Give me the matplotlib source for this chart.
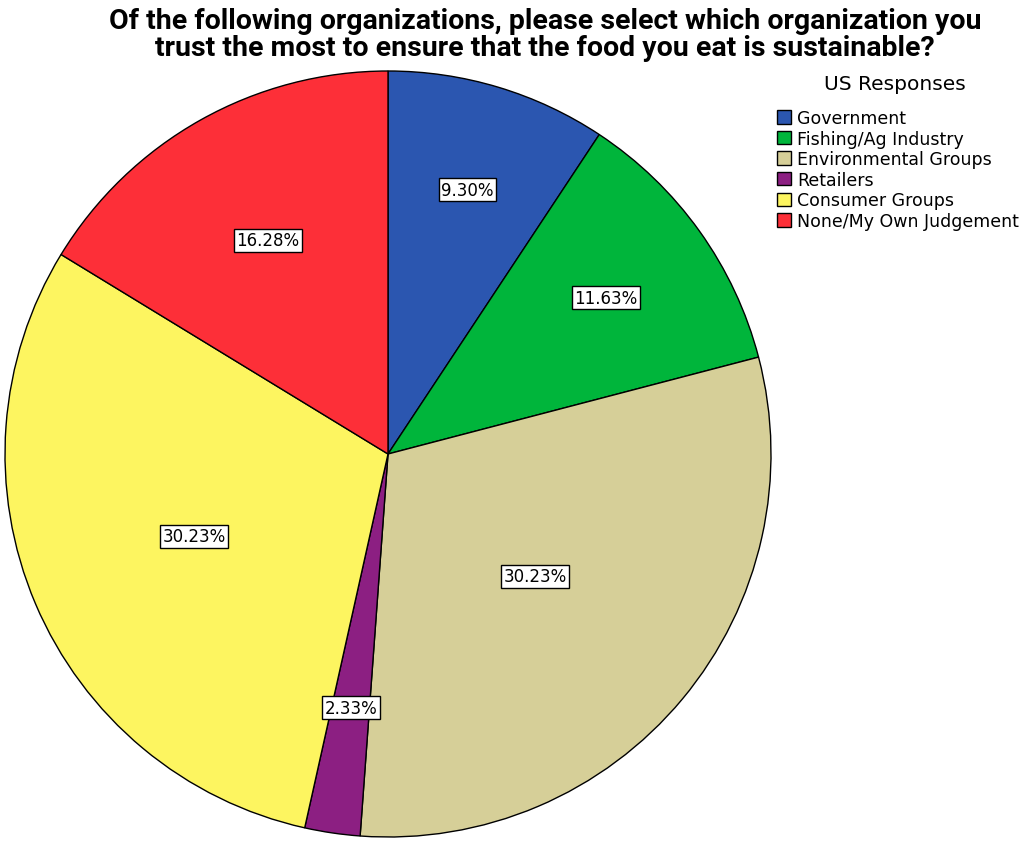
import matplotlib.pyplot as plt
import numpy as np

# US survey responses (percent)
categories = ["Government", "Fishing/Ag Industry", "Environmental Groups",
              "Retailers", "Consumer Groups", "None/My Own Judgement"]
values = [9.30, 11.63, 30.23, 2.33, 30.23, 16.28]
colors = ["#2b56b0", "#00b53b", "#d6cf98", "#8c1f82", "#fdf560", "#fd2f38"]
label_dist = [0.72, 0.70, 0.50, 0.67, 0.55, 0.64]

fig = plt.figure(figsize=(10.24, 8.45), dpi=100)
ax = fig.add_axes([0, 0, 1, 1])

cx, cy, r = 388, 390, 383
wedges, _ = ax.pie(values, colors=colors, startangle=90, counterclock=False,
                   center=(cx, cy), radius=r, frame=True,
                   wedgeprops=dict(edgecolor='black', linewidth=1.0))
ax.set_xlim(0, 1024)
ax.set_ylim(0, 845)
ax.set_aspect('equal')
ax.axis('off')

for w, v, d in zip(wedges, values, label_dist):
    mid = np.deg2rad((w.theta1 + w.theta2) / 2)
    ax.text(cx + d * r * np.cos(mid), cy + d * r * np.sin(mid), f"{v:.2f}%",
            ha='center', va='center', fontsize=12, family='DejaVu Sans',
            bbox=dict(boxstyle='square,pad=0.15', fc='white', ec='black', lw=1))

fig.text(0.532, 0.991, "Of the following organizations, please select which organization you\n"
         "trust the most to ensure that the food you eat is sustainable?",
         ha='center', va='top', fontsize=20.5, fontweight='bold', family='Roboto',
         linespacing=1.02)

fig.text(895 / 1024, 1 - 85 / 845, "US Responses", ha='center', va='center',
         fontsize=14.5, family='DejaVu Sans')
leg = fig.legend(wedges, categories, loc='upper left',
                 bbox_to_anchor=(770 / 1024, 1 - 103 / 845), frameon=False,
                 fontsize=12.5, handlelength=0.8,
                 handleheight=0.8, handletextpad=0.35, labelspacing=0.15,
                 borderaxespad=0)
for t in leg.get_texts():
    t.set_family('DejaVu Sans')

fig.savefig("out.png", dpi=100)
